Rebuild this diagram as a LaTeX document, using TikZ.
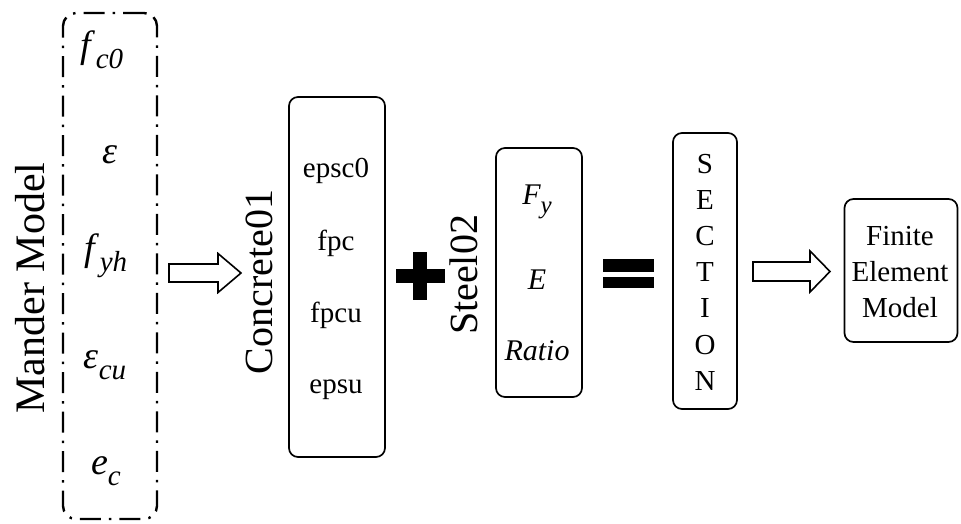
\documentclass[tikz,border=0pt]{standalone}
\usepackage{fontspec}
\setmainfont{Liberation Serif}

% italic symbol with a lowered subscript
\newcommand\isub[3][29]{\textit{#2}\raisebox{-0.28em}{\fontsize{#1}{#1}\selectfont\textit{#3}}}

\begin{document}
\begin{tikzpicture}[x=1pt,y=-1pt,
  roundbox/.style={draw, line width=1.7pt, rounded corners=9pt, inner sep=0pt},
  dashbox/.style={draw, line width=2.4pt, rounded corners=13pt, inner sep=0pt,
    dash pattern=on 21pt off 8pt on 2.5pt off 8pt},
  bigmath/.style={font=\fontsize{38}{38}\selectfont, inner sep=0pt},
  rotlabel/.style={rotate=90, font=\fontsize{40}{40}\selectfont, inner sep=0pt},
  item/.style={font=\fontsize{29}{36}\selectfont, inner sep=0pt, align=center},
  steelitem/.style={font=\fontsize{30}{30}\selectfont\itshape, inner sep=0pt},
  hollow/.style={draw, line width=1.6pt, fill=white, line join=miter},
  solidbar/.style={fill=black}]

\fill[white] (0,0) rectangle (961,523);
\useasboundingbox (0,0) rectangle (961,523);

% Mander model inputs
\node[dashbox, minimum width=94pt, minimum height=506pt] (mander) at (110,266) {};
\node[rotlabel, font=\fontsize{42}{42}\selectfont] (manderlbl) at (30,288) {Mander Model};
\node[bigmath] (fc0) at (102,50) {\isub{f}{c0}};
\node[bigmath] (eps) at (110,155) {\textit{ε}};
\node[bigmath] (fyh) at (106,256) {\isub{f}{yh}};
\node[bigmath] (epscu) at (105,365) {\isub{ε}{cu}};
\node[bigmath] (ec) at (106,471) {\isub{e}{c}};

% arrow into Concrete01
\coordinate (a1) at (169,273);
\draw[hollow] (a1) ++(0,-9) -- ++(49,0) -- ++(0,-10.5) -- ++(23,19.5)
  -- ++(-23,19.5) -- ++(0,-10.5) -- ++(-49,0) -- cycle;

% Concrete01 material
\node[rotlabel] (conclbl) at (259,282) {Concrete01};
\node[roundbox, minimum width=96pt, minimum height=360pt] (conc) at (337,277) {};
\node[item] (epsc0) at (336,171) {epsc0};
\node[item] (fpc) at (336,243) {fpc};
\node[item] (fpcu) at (336,315) {fpcu};
\node[item] (epsu) at (336,390) {epsu};

% plus sign
\coordinate (plus) at (420,276);
\fill[solidbar] (396,269) rectangle (445,283);
\fill[solidbar] (413,252) rectangle (427,300);

% Steel02 material
\node[rotlabel] (steellbl) at (464,275) {Steel02};
\node[roundbox, minimum width=86pt, minimum height=249pt] (steel) at (539,272.5) {};
\node[steelitem] (fy) at (537,202) {\isub[25]{F}{y}};
\node[steelitem] (emod) at (537,280) {E};
\node[steelitem] (ratio) at (537,351) {Ratio};

% equals sign
\fill[solidbar] (603,259) rectangle (654,272);
\fill[solidbar] (603,277) rectangle (654,288);

% section
\node[roundbox, minimum width=64pt, minimum height=276pt] (section) at (705,271) {};
\node[item, font=\fontsize{29}{36.2}\selectfont] (sectxt) at (705,272)
  {S\\E\\C\\T\\I\\O\\N};

% arrow into the finite element model
\coordinate (a2) at (753,271.5);
\draw[hollow] (a2) ++(0,-9.5) -- ++(57,0) -- ++(0,-11) -- ++(20,20.5)
  -- ++(-20,20.5) -- ++(0,-11) -- ++(-57,0) -- cycle;

% finite element model
\node[roundbox, minimum width=113pt, minimum height=143pt] (fem) at (901,270.5) {};
\node[item] (femtxt) at (900,272) {Finite\\Element\\Model};

\end{tikzpicture}
\end{document}
